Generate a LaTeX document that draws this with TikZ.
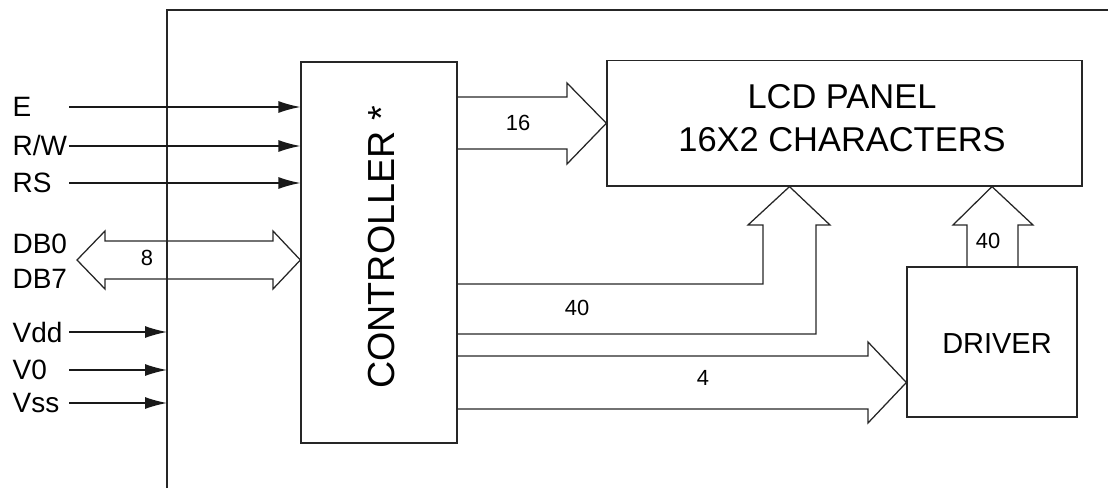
\documentclass[tikz,border=0pt]{standalone}
\usepackage{fontspec}
\setmainfont{Liberation Sans}
\usetikzlibrary{arrows.meta}

\begin{document}
\begin{tikzpicture}[line width=0.9pt,>={Latex[length=0.55cm,width=0.3cm]},
  blk/.style={draw=black!85,inner sep=0pt},
  sig/.style={->,black!90},
  bus/.style={draw=black!85,line join=miter},
  lbl/.style={anchor=west,inner sep=0pt,font=\fontsize{19.9}{24}\selectfont},
  num/.style={inner sep=0pt,font=\fontsize{15.6}{19}\selectfont}]
\useasboundingbox (0,0) rectangle (27.7,12.2);
% outer frame of the module, only left and top edges visible
\coordinate (frame) at (4.175,11.95);
\draw[black!85] (4.175,0) -- (frame) -- (27.7,11.95);
% ---- blocks ----
\node[blk,minimum width=3.9cm,minimum height=9.525cm] (ctrl) at (9.475,5.8875) {};
\node[rotate=90,inner sep=0pt,font=\fontsize{26.8}{32}\selectfont] (ctrltxt) at (9.55,6.0125) {CONTROLLER *};
\node[blk,minimum width=11.875cm,minimum height=3.1375cm] (lcd) at (21.1125,9.11875) {};
\node[align=center,inner sep=0pt,font=\fontsize{24.5}{30.6}\selectfont] (lcdtxt) at (21.05,9.25) {LCD PANEL\\16X2 CHARACTERS};
\node[blk,minimum width=4.25cm,minimum height=3.75cm] (drv) at (24.8,3.65) {};
\node[inner sep=0pt,font=\fontsize{20.6}{25}\selectfont] (drvtxt) at (24.925,3.6) {DRIVER};
% ---- control inputs ----
\foreach \n/\t/\y in {E/E/9.525, RW/{R/W}/8.55, RS/RS/7.625}{
  \node[lbl] (s\n) at (0.3,\y) {\t};
  \coordinate (in\n) at (1.725,\y);
  \draw[sig] (in\n) -- (in\n -| ctrl.west);
}
% ---- supply inputs ----
\foreach \n/\t/\y in {Vdd/Vdd/3.9, V0/V0/2.95, Vss/Vss/2.125}{
  \node[lbl] (s\n) at (0.3,\y) {\t};
  \coordinate (in\n) at (1.725,\y);
  \draw[sig] (in\n) -- (in\n -| frame);
}
% ---- data bus DB0..DB7 ----
\node[lbl] (sDB0) at (0.3,6.1) {DB0};
\node[lbl] (sDB7) at (0.3,5.225) {DB7};
\draw[bus] (1.925,5.7) -- (2.625,6.425) -- (2.625,6.175) -- (6.825,6.175)
  -- (6.825,6.425) -- (ctrl.west |- 0,5.7) -- (6.825,4.975) -- (6.825,5.225)
  -- (2.625,5.225) -- (2.625,4.975) -- cycle;
\node[num] (n8) at (3.675,5.75) {8};
% ---- controller -> lcd (16) ----
\draw[bus] (ctrl.east |- 0,9.775) -- (14.175,9.775) -- (14.175,10.125)
  -- (lcd.west) -- (14.175,8.1) -- (14.175,8.475) -- (ctrl.east |- 0,8.475);
\node[num] (n16) at (12.95,9.125) {16};
% ---- controller -> lcd (40) ----
\draw[bus] (ctrl.east |- 0,5.1) -- (19.075,5.1) -- (19.075,6.575) -- (18.7,6.575)
  -- (lcd.south -| 19.7375,0) -- (20.75,6.575) -- (20.4,6.575) -- (20.4,3.85)
  -- (ctrl.east |- 0,3.85);
\node[num] (n40a) at (14.425,4.5) {40};
% ---- controller -> driver (4) ----
\draw[bus] (ctrl.east |- 0,3.3) -- (21.7,3.3) -- (21.7,3.65)
  -- (drv.west |- 0,2.6375) -- (21.7,1.625) -- (21.7,1.975) -- (ctrl.east |- 0,1.975);
\node[num] (n4) at (17.575,2.75) {4};
% ---- driver -> lcd (40) ----
\draw[bus] (drv.north -| 24.175,0) -- (24.175,6.575) -- (23.825,6.575)
  -- (lcd.south -| 24.8,0) -- (25.825,6.575) -- (25.45,6.575) -- (drv.north -| 25.45,0);
\node[num] (n40b) at (24.7,6.175) {40};
\end{tikzpicture}
\end{document}
